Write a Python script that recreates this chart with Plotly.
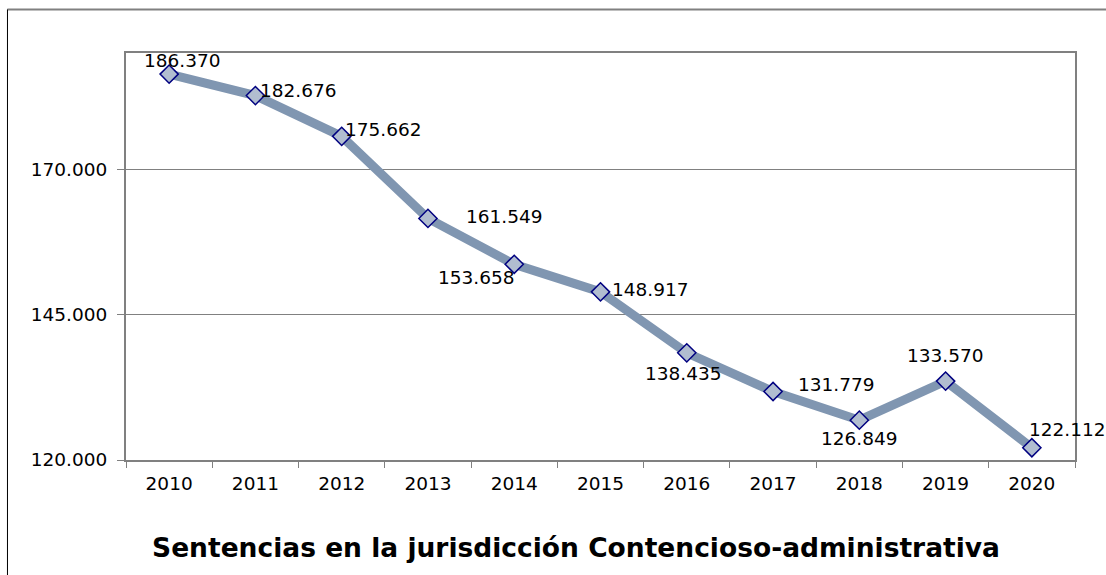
import plotly.graph_objects as go

# Sentencias dictadas por año
years = ["2010", "2011", "2012", "2013", "2014", "2015", "2016", "2017", "2018", "2019", "2020"]
sentencias = [186370, 182676, 175662, 161549, 153658, 148917, 138435, 131779, 126849, 133570, 122112]
value_labels = ["186.370", "182.676", "175.662", "161.549", "153.658", "148.917",
                "138.435", "131.779", "126.849", "133.570", "122.112"]
y_ticks = [120000, 145000, 170000]
y_tick_text = ["120.000", "145.000", "170.000"]

# pixel offsets of each value label relative to its point
label_dx = [13, 43, 42, 77, -38, 50, -3, 63, 0, 0, 36]
label_dy = [14, 5, 7, 2, -13, 2, -21, 7, -18, 26, 18]

FONT = "Verdana, DejaVu Sans, sans-serif"
NUM_SIZE = 18.5

fig = go.Figure()
fig.add_trace(go.Scatter(
    x=years, y=sentencias, mode="lines+markers",
    line=dict(color="#8096b1", width=9),
    marker=dict(symbol="diamond", size=14, color="#b1bdd0",
                line=dict(color="#000080", width=1.5)),
    hoverinfo="skip", showlegend=False,
))

# category positions are given by index so the year strings are not read as numbers
for i, (v, txt, dx, dy) in enumerate(zip(sentencias, value_labels, label_dx, label_dy)):
    fig.add_annotation(x=i, y=v, text=txt, showarrow=False,
                       xshift=dx, yshift=dy,
                       font=dict(family=FONT, size=NUM_SIZE, color="#000000"))

# outer frame of the chart
fig.add_shape(type="line", xref="paper", yref="paper",
              x0=-0.125, x1=1.05, y0=1.107, y1=1.107,
              line=dict(color="#808080", width=2))
fig.add_shape(type="line", xref="paper", yref="paper",
              x0=-0.1249, x1=-0.1249, y0=1.107, y1=-0.3,
              line=dict(color="#000000", width=1))

fig.update_layout(
    width=1106, height=575,
    margin=dict(l=126, r=31, t=53, b=115),
    paper_bgcolor="white", plot_bgcolor="white",
    font=dict(family=FONT, size=NUM_SIZE, color="#000000"),
    title=dict(text="<b>Sentencias en la jurisdicción Contencioso-administrativa</b>",
               x=576 / 1106, xref="container", xanchor="center",
               y=1 - 548 / 575, yref="container", yanchor="middle",
               font=dict(family=FONT, size=26.5, color="#000000")),
    xaxis=dict(
        type="category", range=[-0.5, 10.5],
        showgrid=False, showline=True, linecolor="#808080", linewidth=2,
        mirror=True, ticks="outside", tickson="boundaries",
        ticklen=6, tickcolor="#808080", tickwidth=1,
        ticklabelstandoff=6,
        tickfont=dict(family=FONT, size=NUM_SIZE, color="#000000"),
    ),
    yaxis=dict(
        range=[120000, 190000], tickvals=y_ticks, ticktext=y_tick_text,
        showgrid=True, gridcolor="#808080", gridwidth=1,
        showline=True, linecolor="#808080", linewidth=2, mirror=True,
        ticks="outside", ticklen=7, tickcolor="#808080", tickwidth=1,
        ticklabelstandoff=6, zeroline=False,
        tickfont=dict(family=FONT, size=NUM_SIZE, color="#000000"),
    ),
)

fig.write_html("out.html")
